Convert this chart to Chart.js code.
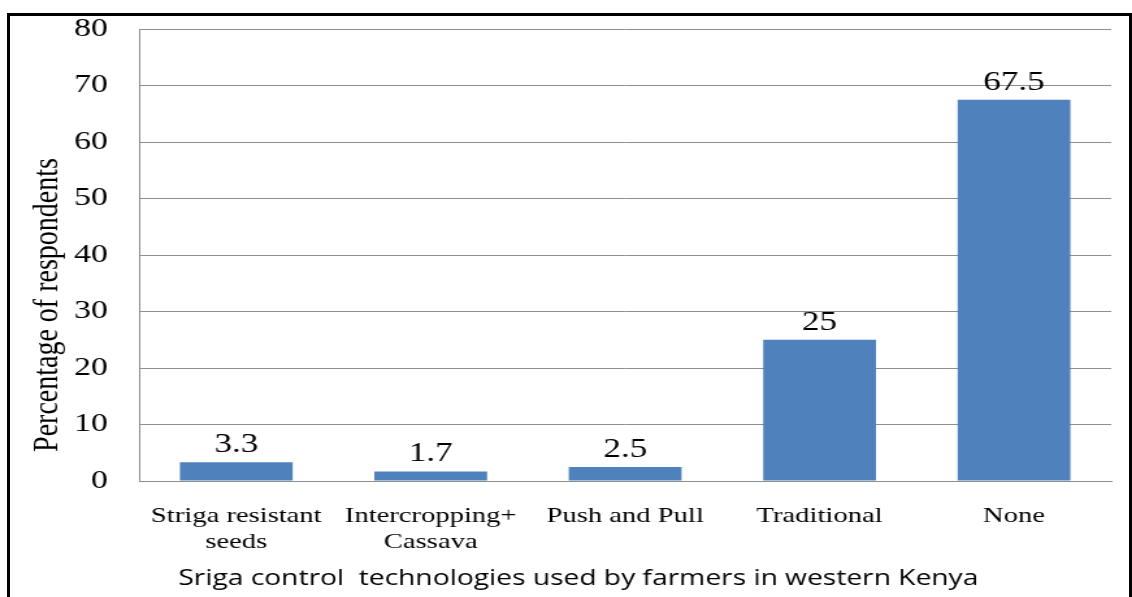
<!DOCTYPE html>
<html>
<head>
<meta charset="utf-8">
<script src="https://cdn.jsdelivr.net/npm/chart.js@4/dist/chart.umd.min.js"></script>
<style>
  html, body { margin: 0; padding: 0; background: #fff; }
  body { width: 1132px; height: 597px; position: relative; overflow: hidden; }
  /* the source picture is stretched sideways, so the chart is laid out narrower and scaled */
  #wrap { position: absolute; left: 0; top: 0; width: 871px; height: 597px; transform: scaleX(1.2997); transform-origin: 0 0; }
  #frame { position: absolute; left: 7px; top: 13px; width: 1119px; height: 600px; border: 3px solid #000; border-bottom: none; pointer-events: none; }
</style>
</head>
<body>
<div id="wrap"><canvas id="chart"></canvas></div>
<div id="frame"></div>
<script>
const SERIF = '"Liberation Serif", "Times New Roman", serif'

const categories = [['Striga resistant', 'seeds'], ['Intercropping+', 'Cassava'], 'Push and Pull', 'Traditional', 'None']
const respondents = [3.3, 1.7, 2.5, 25, 67.5]
const yTitle = 'Percentage of respondents'
const xTitle = 'Sriga control  technologies used by farmers in western Kenya'

// value written just above each bar
const barLabels = {
  id: 'barLabels',
  afterDatasetsDraw(chart) {
    const ctx = chart.ctx
    const meta = chart.getDatasetMeta(0)
    ctx.save()
    ctx.font = `27px ${SERIF}`
    ctx.fillStyle = '#000'
    ctx.textAlign = 'center'
    ctx.textBaseline = 'alphabetic'
    meta.data.forEach((bar, i) => {
      ctx.fillText(String(respondents[i]), bar.x, bar.y - 10)
    })
    ctx.restore()
  }
}

// axis titles sit off-centre in the original, so they are drawn here
const axisTitles = {
  id: 'axisTitles',
  afterDraw(chart) {
    const {ctx, chartArea} = chart
    ctx.save()
    ctx.fillStyle = '#000'
    ctx.textAlign = 'center'
    ctx.textBaseline = 'middle'
    ctx.font = `28px ${SERIF}`
    ctx.translate(37, (chartArea.top + chartArea.bottom) / 2 + 50)
    ctx.rotate(-Math.PI / 2)
    ctx.fillText(yTitle, 0, 0)
    ctx.restore()

    ctx.save()
    ctx.fillStyle = '#000'
    ctx.textAlign = 'center'
    ctx.textBaseline = 'middle'
    ctx.font = '21.7px "Open Sans"'
    ctx.fillText(xTitle, (chartArea.left + chartArea.right) / 2 - 36, chart.height - 18)
    ctx.restore()
  }
}

new Chart(document.getElementById('chart'), {
  type: 'bar',
  data: {
    labels: categories,
    datasets: [{
      data: respondents,
      backgroundColor: '#4F81BD',
      barPercentage: 0.58,
      categoryPercentage: 1
    }]
  },
  options: {
    responsive: true,
    maintainAspectRatio: false,
    animation: false,
    layout: { padding: { left: 14, right: 16, top: 29, bottom: 0 } },
    plugins: {
      legend: { display: false },
      tooltip: { enabled: false },
      title: { display: false }
    },
    scales: {
      x: {
        grid: { display: false, drawTicks: false },
        border: { color: '#8e8e8e' },
        ticks: { color: '#000', font: { family: SERIF, size: 22 }, padding: 22, maxRotation: 0, autoSkip: false },
        afterFit(scale) { scale.height = 116 }
      },
      y: {
        min: 0,
        max: 80,
        // invisible tick marks give the label gap without adding top padding
        grid: { color: '#8e8e8e', drawTicks: true, tickLength: 24, tickColor: 'rgba(0,0,0,0)' },
        border: { color: '#8e8e8e' },
        ticks: { stepSize: 10, color: '#000', font: { family: SERIF, size: 26 }, padding: 0 },
        afterFit(scale) { scale.width = 93 }
      }
    }
  },
  plugins: [barLabels, axisTitles]
})
</script>
</body>
</html>
